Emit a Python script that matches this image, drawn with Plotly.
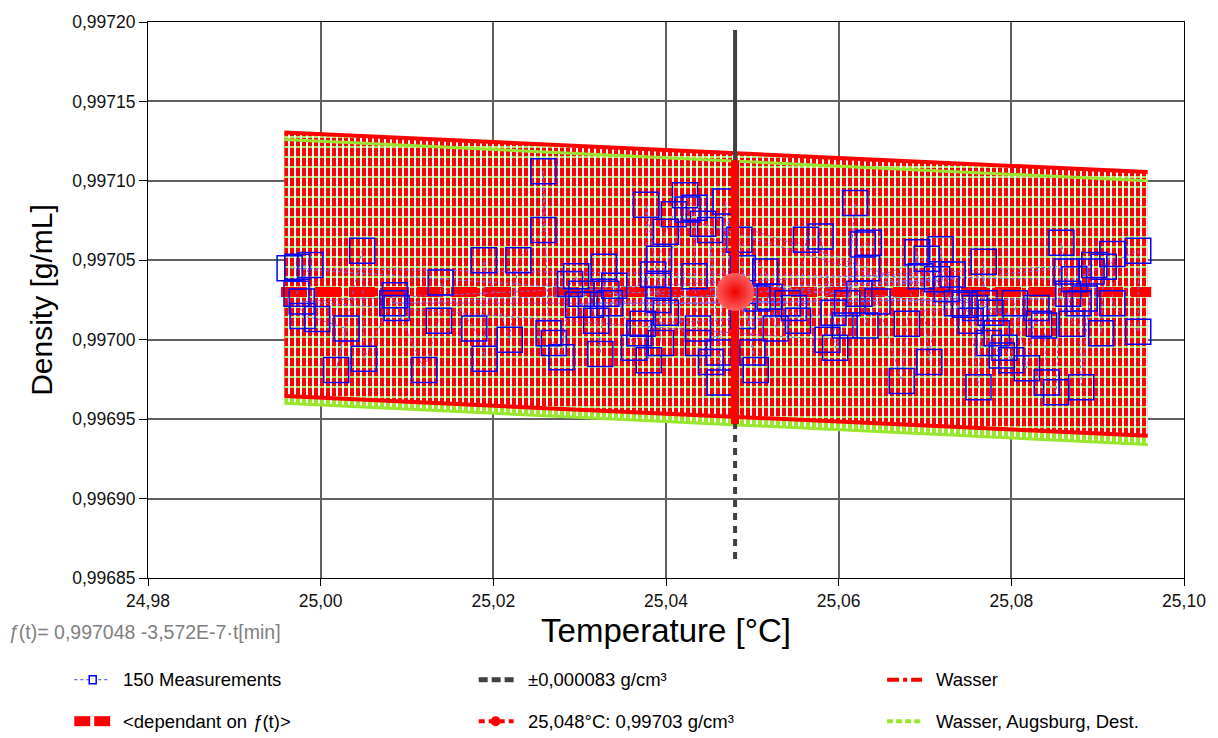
import plotly.graph_objects as go

# ---------------- data ----------------
meas_temp = [
    24.9973, 24.9988, 24.9972, 24.9979, 24.9996, 25.0030, 25.0018, 25.0048, 25.0050,
    25.0086, 25.0088, 25.0120, 25.0137, 25.0139, 25.0178, 25.0190, 25.0189, 25.0219,
    25.0229, 25.0258, 25.0258, 25.0264, 25.0270, 25.0279, 25.0289, 25.0296, 25.0302,
    25.0313, 25.0319, 25.0324, 25.0328, 25.0331, 25.0340, 25.0363, 25.0369, 25.0380,
    25.0377, 25.0391, 25.0391, 25.0394, 25.0392, 25.0400, 25.0409, 25.0422, 25.0433,
    25.0433, 25.0437, 25.0400, 25.0452, 25.0451, 25.0461, 25.0462, 25.0469, 25.0489,
    25.0489, 25.0500, 25.0504, 25.0485, 25.0515, 25.0520, 25.0527, 25.0548, 25.0553,
    25.0562, 25.0579, 25.0594, 25.0596, 25.0607, 25.0619, 25.0610, 25.0628, 25.0635,
    25.0633, 25.0631, 25.0645, 25.0673, 25.0679, 25.0691, 25.0695, 25.0705, 25.0718,
    25.0725, 25.0732, 25.0746, 25.0753, 25.0762, 25.0768, 25.0769, 25.0776, 25.0783,
    25.0792, 25.0800, 25.0804, 25.0818, 25.0829, 25.0838, 25.0841, 25.0852, 25.0858,
    25.0864, 25.0866, 25.0870, 25.0878, 25.0881, 25.0893, 25.0904, 25.0907, 25.0917,
    25.0917, 25.0947, 25.0947,
    25.0873, 24.9964, 25.0541, 25.0083, 25.0714, 25.0298, 25.0885, 25.0335, 25.0385,
    25.0758, 25.0373, 25.0425, 25.0832, 25.0443, 25.0506, 25.0896, 24.9978, 25.0587,
    25.0624, 25.0737, 25.0774, 25.0789, 25.0702, 25.0437,
]
meas_density = [
    0.997046, 0.997047, 0.997029, 0.997015, 0.997013, 0.997007, 0.996981, 0.997056, 0.996988,
    0.997028, 0.997020, 0.996981, 0.997012, 0.997036, 0.997007, 0.996988, 0.997050, 0.997000,
    0.997050, 0.997069, 0.997106, 0.997004, 0.996998, 0.996989, 0.997035, 0.997040, 0.997029,
    0.997022, 0.997012, 0.996991, 0.997046, 0.997029, 0.997034, 0.996995, 0.997004, 0.996987,
    0.997085, 0.997034, 0.997025, 0.996998, 0.997051, 0.997068, 0.997079, 0.997091, 0.997083,
    0.997040, 0.997007, 0.997017, 0.996986, 0.997069, 0.996992, 0.996973, 0.997087, 0.997015,
    0.997045, 0.996992, 0.996981, 0.997063, 0.997043, 0.997027, 0.997007, 0.997020, 0.997012,
    0.997063, 0.997065, 0.997017, 0.996995, 0.997009, 0.997086, 0.997023, 0.997060, 0.997061,
    0.997045, 0.997009, 0.997024, 0.996974, 0.997010, 0.997055, 0.997040, 0.996986, 0.997057,
    0.997032, 0.997041, 0.997022, 0.997012, 0.996970, 0.997049, 0.997023, 0.997017, 0.997004,
    0.996995, 0.996987, 0.997023, 0.996982, 0.997020, 0.997009, 0.996973, 0.996967, 0.997061,
    0.997043, 0.997029, 0.997010, 0.997023, 0.996970, 0.997043, 0.997004, 0.997046, 0.997054,
    0.997023, 0.997005, 0.997056,
    0.997038, 0.997045, 0.997023, 0.997023, 0.997038, 0.997022, 0.997026, 0.997023, 0.997041,
    0.997020, 0.997010, 0.997082, 0.997010, 0.997073, 0.997026, 0.997047, 0.997024, 0.997000,
    0.997029, 0.997023, 0.996998, 0.996990, 0.997051, 0.996998,
]

# reference water density band (ends of the temperature range)
wasser_temp = [24.9958, 25.0958]
wasser_density = [0.9970475, 0.9970225]
augsburg_density = [0.997043, 0.997017]
uncertainty = 0.000083

# fitted level f(t)
dep_temp = [24.9954, 25.0962]
dep_density = [0.99703, 0.99703]

# mean point
mean_temp = [25.048]
mean_density = [0.99703]

# +/- uncertainty vertical marker
unc_temp_top = [25.048, 25.048]
unc_density_top = [0.997195, 0.99703]
unc_temp_bot = [25.048, 25.048]
unc_density_bot = [0.99703, 0.996862]

x_ticks = [24.98, 25.00, 25.02, 25.04, 25.06, 25.08, 25.10]
x_ticktext = ["24,98", "25,00", "25,02", "25,04", "25,06", "25,08", "25,10"]
y_ticks = [0.99685, 0.99690, 0.99695, 0.99700, 0.99705, 0.99710, 0.99715, 0.99720]
y_ticktext = ["0,99685", "0,99690", "0,99695", "0,99700", "0,99705", "0,99710", "0,99715", "0,99720"]

RED = "#ff0000"
GREEN = "#99e62e"
GAPGREEN = "#b2e65a"
BLUE = "#0000ff"
GRAY = "#404040"
FONT = "Liberation Sans, Arial, sans-serif"

# ---------------- figure ----------------
fig = go.Figure()


def band(center):
    up = [c + uncertainty for c in center]
    lo = [c - uncertainty for c in center]
    return up, lo


w_up, w_lo = band(wasser_density)
g_up, g_lo = band(augsburg_density)
TT = wasser_temp + wasser_temp[::-1]


def poly(y, **kw):
    fig.add_trace(go.Scatter(x=TT, y=y, fill="toself", mode="lines", line=dict(width=0),
                             showlegend=False, hoverinfo="skip", **kw))


# solid green band (Augsburg) and red band (Wasser)
poly(g_up + g_lo[::-1], fillcolor=GREEN)
poly(w_up + w_lo[::-1], fillcolor=RED)
# green gaps of the dashed red bars
poly(w_up + w_lo[::-1], fillcolor="rgba(0,0,0,0)",
     fillpattern=dict(shape="-", fgcolor=GAPGREEN, bgcolor="rgba(0,0,0,0)", size=10,
                      solidity=0.2, fillmode="replace"))
# white spaces between the vertical bars
poly(w_up + g_lo[::-1], fillcolor="rgba(0,0,0,0)",
     fillpattern=dict(shape="|", fgcolor="#ffffff", bgcolor="rgba(0,0,0,0)", size=6,
                      solidity=0.34, fillmode="replace"))

# band edges
for y in (g_up, g_lo):
    fig.add_trace(go.Scatter(x=wasser_temp, y=y, mode="lines",
                             line=dict(color=GREEN, width=3), showlegend=False, hoverinfo="skip"))
for y in (w_up, w_lo):
    fig.add_trace(go.Scatter(x=wasser_temp, y=y, mode="lines",
                             line=dict(color=RED, width=4), showlegend=False, hoverinfo="skip"))

# uncertainty vertical line
fig.add_trace(go.Scatter(x=unc_temp_top, y=unc_density_top, mode="lines",
                         line=dict(color=GRAY, width=4), showlegend=False, hoverinfo="skip"))
fig.add_trace(go.Scatter(x=unc_temp_bot, y=unc_density_bot, mode="lines",
                         line=dict(color=GRAY, width=4, dash="7px,6px"), showlegend=False,
                         hoverinfo="skip"))

# f(t) level
fig.add_trace(go.Scatter(x=dep_temp, y=dep_density, mode="lines",
                         line=dict(color=RED, width=10, dash="26px,8px"), showlegend=False,
                         hoverinfo="skip"))

# measurements
fig.add_trace(go.Scatter(
    x=meas_temp, y=meas_density, mode="lines+markers",
    line=dict(color="#7070ff", width=1, dash="dot"),
    marker=dict(symbol="square-open", size=25, color=BLUE, line=dict(width=1.5, color=BLUE)),
    showlegend=False))

# mean point with error bar
fig.add_trace(go.Scatter(
    x=mean_temp, y=mean_density, mode="markers",
    marker=dict(symbol="circle", size=38, color="#ff6060",
                gradient=dict(type="radial", color="#f00000"), line=dict(width=0)),
    error_y=dict(type="constant", value=uncertainty, color=RED, thickness=8, width=0),
    showlegend=False))

# ---------------- layout ----------------
L, R, T, B = 148, 30, 15, 160
W, H = 1218, 738
PW, PH = W - L - R, H - T - B


def px(x):
    return (x - L) / PW


def py(y):
    return (T + PH - y) / PH


shapes = []
annotations = []


def hline(x0, x1, y, color, width, dash="solid"):
    shapes.append(dict(type="line", xref="paper", yref="paper", x0=px(x0), x1=px(x1),
                       y0=py(y), y1=py(y), line=dict(color=color, width=width, dash=dash)))


def label(x, y, text, size=18.5, color="#000000"):
    annotations.append(dict(xref="paper", yref="paper", x=px(x), y=py(y), text=text,
                            showarrow=False, xanchor="left", yanchor="middle",
                            font=dict(family=FONT, size=size, color=color)))


row1, row2 = 681, 723
# column 1
hline(74, 110, row1, "#3b3bff", 1, "dot")
shapes.append(dict(type="rect", xref="paper", yref="paper", x0=px(89), x1=px(96),
                   y0=py(row1 + 4), y1=py(row1 - 4), line=dict(color=BLUE, width=1.5),
                   fillcolor="white"))
label(121, row1, "150 Measurements")
hline(74, 90, row2, RED, 10)
hline(94, 110, row2, RED, 10)
label(121, row2, "&lt;dependant on <i>ƒ</i>(t)&gt;")
# column 2
for a, b in ((480, 489), (493, 502), (506, 515)):
    hline(a, b, row1, GRAY, 5)
label(527, row1, "±0,000083 g/cm³")
hline(480, 515, row2, RED, 4, "6px,4px")
shapes.append(dict(type="circle", xref="paper", yref="paper", x0=px(492), x1=px(502),
                   y0=py(row2 + 5), y1=py(row2 - 5), line=dict(width=0), fillcolor=RED))
label(527, row2, "25,048°C: 0,99703 g/cm³")
# column 3
hline(890, 925, row1, RED, 4, "dashdot")
label(937, row1, "Wasser")
hline(890, 925, row2, GREEN, 4, "6px,3px")
label(937, row2, "Wasser, Augsburg, Dest.")

# formula
label(5, 633, "<i>ƒ</i>(t)= 0,997048 -3,572E-7·t[min]", size=19.5, color="#808080")

fig.update_layout(
    width=W, height=H,
    margin=dict(l=L, r=R, t=T, b=B, pad=0),
    paper_bgcolor="white", plot_bgcolor="white",
    font=dict(family=FONT, color="#000000"),
    shapes=shapes, annotations=annotations,
    showlegend=False,
    xaxis=dict(range=[24.98, 25.10], tickvals=x_ticks, ticktext=x_ticktext,
               showgrid=True, gridcolor="#606060", gridwidth=1.5,
               showline=True, linecolor="#000000", linewidth=1, mirror=True,
               ticks="outside", ticklen=7, tickcolor="#000000",
               tickfont=dict(size=17.5, color="#111111"), zeroline=False,
               title=dict(text="Temperature [°C]", font=dict(size=33), standoff=8)),
    yaxis=dict(range=[0.99685, 0.99720], tickvals=y_ticks, ticktext=y_ticktext,
               showgrid=True, gridcolor="#606060", gridwidth=1.5,
               showline=True, linecolor="#000000", linewidth=1, mirror=True,
               ticks="outside", ticklen=8, tickcolor="#000000",
               tickfont=dict(size=17.5, color="#111111"), zeroline=False,
               title=dict(text="Density [g/mL]", font=dict(size=30), standoff=10)),
)

fig.write_html("out.html")
